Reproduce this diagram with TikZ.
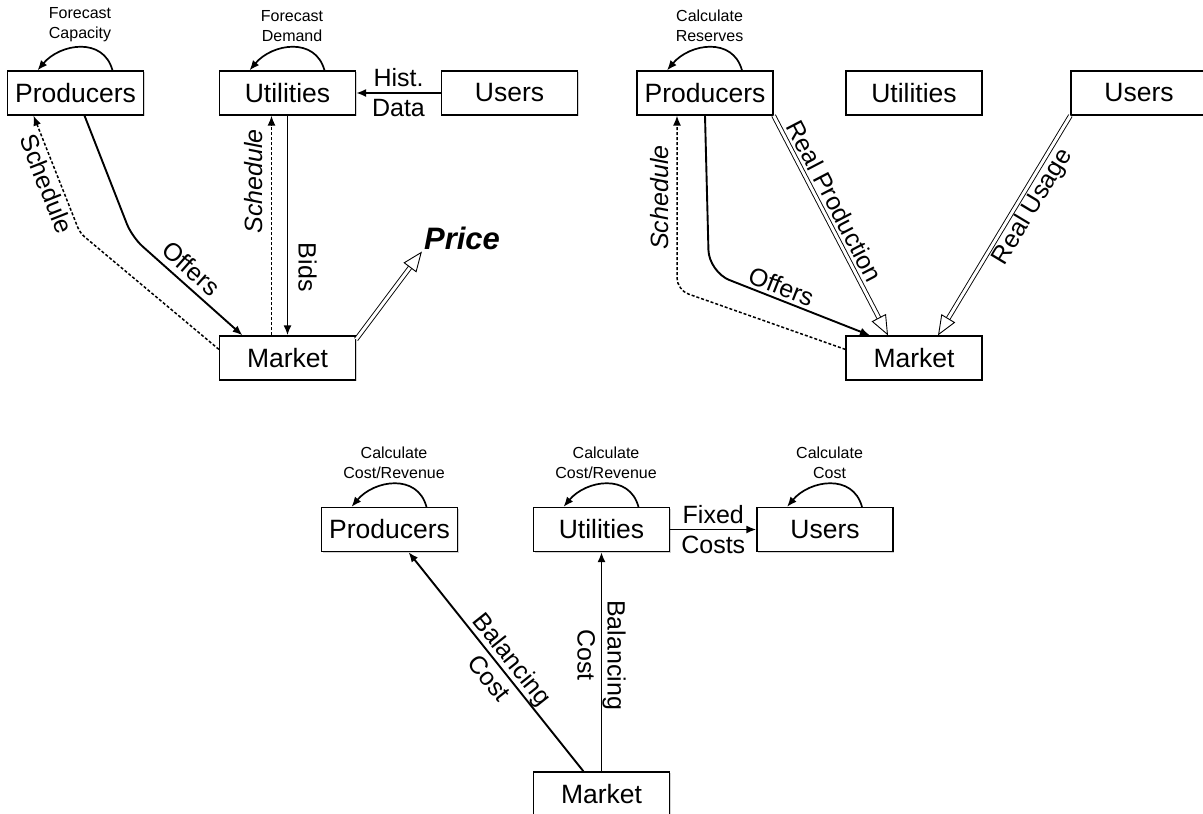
\documentclass[tikz,border=0pt]{standalone}
\usepackage{fontspec}
\setmainfont{Liberation Sans}
\usepackage{tikz}
\usetikzlibrary{arrows.meta}
\usetikzlibrary{shadows}

\begin{document}
\begin{tikzpicture}[x=1pt, y=1pt,
  box/.style={draw, line width=1.2pt, fill=white, minimum width=136pt, minimum height=44pt, inner sep=0pt,
    font=\fontsize{26.5}{31}\selectfont, drop shadow={shadow xshift=1.2pt, shadow yshift=-1.2pt, opacity=0.35}},
  lbl/.style={font=\fontsize{25}{30}\selectfont, align=center, inner sep=3pt},
  note/.style={font=\fontsize{16}{20}\selectfont, align=center, inner sep=5pt},
  arr/.style={line width=1.9pt, -{Latex[length=10pt, width=8pt]}},
  sched/.style={arr, line width=1.5pt, dash pattern=on 3pt off 2pt},
  hollow/.style={double, double distance=3pt, line width=0.9pt, -{Triangle[open, length=20pt, width=16pt]}},
  selfloop/.style={arr, line width=1.7pt, out=105, in=50, looseness=1.2}]
  \useasboundingbox (0,0) rectangle (1203,-814);

  \node (prodA) at (75.5,-93) [box] {Producers};
  \node (utilA) at (287.5,-93) [box] {Utilities};
  \node (userA) at (509.5,-93) [box] {Users};
  \node (mktA) at (287.5,-358) [box] {Market};
  \node (priceA) at (462,-238) [font=\fontsize{31}{37}\selectfont\bfseries\itshape, inner sep=2pt] {Price};

  \draw[selfloop] ([xshift=37]prodA.north) to node[note, above] {Forecast\\Capacity} ([xshift=-38]prodA.north);
  \draw[selfloop] ([xshift=37]utilA.north) to node[note, above] {Forecast\\Demand} ([xshift=-38]utilA.north);
  \draw[arr] (userA) -- node[lbl] {Hist.\\Data} (utilA);
  \draw[arr, rounded corners=14] ([xshift=9]prodA.south) -- (132,-237) -- node[lbl, sloped, above, pos=0.44, inner sep=6pt] {Offers} ([xshift=-45]mktA.north);
  \draw[sched, rounded corners=6] ([yshift=-14]mktA.north west) -- (80,-233) -- node[lbl, sloped, below, pos=0.46] {Schedule} ([xshift=-42]prodA.south);
  \draw[sched] ([xshift=-16]mktA.north) -- node[lbl, pos=0.7, rotate=90, anchor=south, inner sep=8pt, font=\fontsize{25}{30}\selectfont\itshape] {Schedule} ([xshift=-16]utilA.south);
  \draw[arr] (utilA) -- node[lbl, pos=0.69, rotate=-90, anchor=south, inner sep=10pt] {Bids} (mktA);
  \draw[hollow] ([yshift=-4]mktA.north east) -- (priceA.south west);

  \node (prodB) at (705,-93) [box] {Producers};
  \node (utilB) at (914,-93) [box] {Utilities};
  \node (userB) at (1139,-93) [box] {Users};
  \node (mktB) at (914,-358) [box] {Market};

  \draw[selfloop] ([xshift=37]prodB.north) to node[note, above] {Calculate\\Reserves} ([xshift=-38]prodB.north);
  \draw[sched, rounded corners=12] ([yshift=-14]mktB.north west) -- (677,-290) -- node[lbl, pos=0.53, rotate=90, anchor=south, inner sep=7pt, font=\fontsize{25}{30}\selectfont\itshape] {Schedule} ([xshift=-28]prodB.south);
  \draw[arr, rounded corners=22] (prodB.south) -- (709,-272) -- node[lbl, sloped, above, pos=0.42] {Offers} ([xshift=-44]mktB.north);
  \draw[hollow] (prodB.south east) -- node[lbl, sloped, above, pos=0.42, inner sep=5pt] {Real Production} ([xshift=-26]mktB.north);
  \draw[hollow] (userB.south west) -- node[lbl, sloped, below, pos=0.38] {Real Usage} ([xshift=24]mktB.north);

  \node (prodC) at (389.5,-529.5) [box] {Producers};
  \node (utilC) at (601.5,-529.5) [box] {Utilities};
  \node (userC) at (825,-529.5) [box] {Users};
  \node (mktC) at (601.5,-794) [box] {Market};

  \draw[selfloop] ([xshift=37]prodC.north) to node[note, above] {Calculate\\Cost/Revenue} ([xshift=-38]prodC.north);
  \draw[selfloop] ([xshift=37]utilC.north) to node[note, above] {Calculate\\Cost/Revenue} ([xshift=-38]utilC.north);
  \draw[selfloop] ([xshift=37]userC.north) to node[note, above] {Calculate\\Cost} ([xshift=-38]userC.north);
  \draw[arr] (utilC) -- node[lbl] {Fixed\\Costs} (userC);
  \draw[arr] ([xshift=-18]mktC.north) -- node[lbl, sloped, pos=0.47] {Balancing\\Cost} ([xshift=19]prodC.south);
  \draw[arr] (mktC) -- node[lbl, pos=0.53, rotate=-90] {Balancing\\Cost} (utilC);
\end{tikzpicture}
\end{document}
